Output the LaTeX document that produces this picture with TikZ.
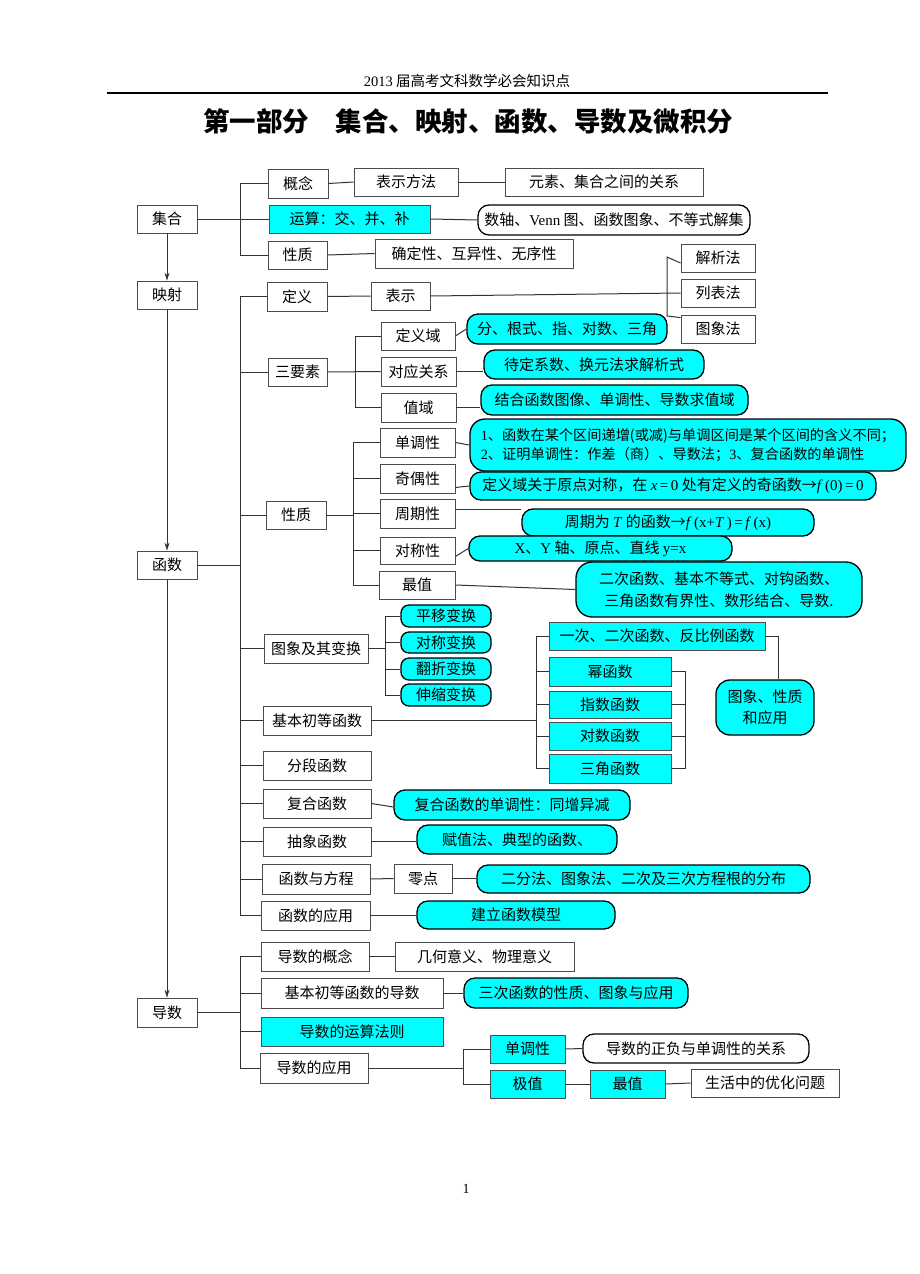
\documentclass[tikz,border=0pt]{standalone}
\usepackage{fontspec}
\setmainfont{Liberation Serif}
\newfontfamily\cjk{Noto Sans CJK SC}
\usetikzlibrary{arrows.meta}
\definecolor{aqua}{RGB}{0,255,255}
\newcommand\latn[1]{{\rmfamily #1}}
\newcommand\mkbox[7]{\node[#6, minimum width={(#4-#2)*1pt}, minimum height={(#5-#3)*1pt}] (#1) at ({(#2+#4)/2},{(#3+#5)/2}) {#7};}
\tikzset{
  txt/.style={font=\cjk\fontsize{15}{19}\selectfont, inner sep=0pt},
  pbox/.style={txt, draw=black!70, line width=0.8pt, fill=white},
  cbox/.style={txt, draw=black!70, line width=0.8pt, fill=aqua},
  pill/.style={txt, draw=black, line width=1.3pt, rounded corners=11pt, fill=aqua},
  wpill/.style={pill, fill=white},
  spill/.style={pill, rounded corners=8pt},
  link/.style={draw=black!80, line width=1pt},
  flow/.style={link, -{Stealth[length=8pt,width=5pt]}},
}
\begin{document}
\begin{tikzpicture}[x=1pt,y=-1pt]
\fill[white] (0,0) rectangle (920,1274);
\useasboundingbox (0,0) rectangle (920,1274);
% header
\node[font=\cjk\fontsize{14.5}{17}\selectfont] (hdr) at (467,81) {\latn{2013} 届高考文科数学必会知识点};
\coordinate (hl1) at (107,93); \coordinate (hl2) at (828,93);
\draw[line width=1.5pt] (hl1) -- (hl2);
\node[font=\cjk\bfseries\fontsize{26.5}{30}\selectfont] (ttl) at (468,121) {第一部分\quad 集合、映射、函数、导数及微积分};
% left column
\mkbox{jh}{137}{205}{197}{233}{pbox}{集合}
\mkbox{ys}{137}{281}{197}{309}{pbox}{映射}
\mkbox{hs}{137}{551}{197}{579}{pbox}{函数}
\mkbox{ds}{137}{998}{197}{1027}{pbox}{导数}
% set
\mkbox{gn}{268}{169}{328}{198}{pbox}{概念}
\mkbox{bsff}{354}{168}{458}{196}{pbox}{表示方法}
\mkbox{ysgx}{505}{168}{703}{196}{pbox}{元素、集合之间的关系}
\mkbox{yx}{269}{205}{430}{233}{cbox}{运算：交、并、补}
\mkbox{szt}{478}{205}{750}{235}{wpill}{数轴、\latn{Venn} 图、函数图象、不等式解集}
\mkbox{xz1}{268}{241}{327}{269}{pbox}{性质}
\mkbox{qd}{375}{239}{573}{268}{pbox}{确定性、互异性、无序性}
% function
\mkbox{dy}{267}{282}{327}{311}{pbox}{定义}
\mkbox{bs}{371}{282}{430}{310}{pbox}{表示}
\mkbox{jx}{681}{244}{755}{272}{pbox}{解析法}
\mkbox{lb}{681}{279}{755}{307}{pbox}{列表法}
\mkbox{tx}{681}{315}{755}{343}{pbox}{图象法}
\mkbox{sys}{268}{358}{327}{386}{pbox}{三要素}
\mkbox{dyy}{381}{322}{455}{350}{pbox}{定义域}
\mkbox{fgs}{467}{314}{667}{344}{pill}{分、根式、指、对数、三角}
\mkbox{dygx}{381}{357}{456}{386}{pbox}{对应关系}
\mkbox{ddxs}{484}{350}{704}{379}{pill}{待定系数、换元法求解析式}
\mkbox{zy}{381}{393}{456}{422}{pbox}{值域}
\mkbox{jhhs}{481}{385}{748}{415}{pill}{结合函数图像、单调性、导数求值域}
\mkbox{xz2}{266}{501}{326}{529}{pbox}{性质}
\mkbox{ddx}{380}{428}{455}{457}{pbox}{单调性}
\mkbox{ddxp}{470}{419}{906}{471}{pill, align=left, rounded corners=15pt, font=\cjk\fontsize{14.2}{18.5}\selectfont}{\latn{1}、函数在某个区间递增(或减)与单调区间是某个区间的含义不同；\\\latn{2}、证明单调性：作差（商）、导数法；\latn{3}、复合函数的单调性}
\mkbox{jox}{380}{464}{455}{493}{pbox}{奇偶性}
\mkbox{joxp}{470}{472}{876}{500}{pill}{定义域关于原点对称，在 \latn{\textit{x}\,=\,0} 处有定义的奇函数→\latn{\textit{f}\,(0)\,=\,0}}
\mkbox{zqx}{380}{499}{455}{528}{pbox}{周期性}
\mkbox{zqxp}{522}{509}{814}{536}{pill}{周期为 \latn{\textit{T}} 的函数→\latn{\textit{f}\,(x+\textit{T}\,)\,=\,\textit{f}\,(x)}}
\mkbox{dcx}{380}{537}{455}{564}{pbox}{对称性}
\mkbox{dcxp}{469}{536}{732}{561}{pill}{\latn{X}、\latn{Y} 轴、原点、直线 \latn{y=x}}
\mkbox{zz}{379}{571}{455}{599}{pbox}{最值}
\mkbox{zzp}{576}{562}{862}{617}{pill, align=center, rounded corners=16pt, font=\cjk\fontsize{15}{22}\selectfont}{二次函数、基本不等式、对钩函数、\\三角函数有界性、数形结合、导数.}
\mkbox{txbh}{264}{634}{368}{663}{pbox}{图象及其变换}
\mkbox{py}{401}{605}{491}{627}{spill}{平移变换}
\mkbox{dc}{401}{632}{491}{653}{spill}{对称变换}
\mkbox{fz}{401}{658}{491}{680}{spill}{翻折变换}
\mkbox{sx}{401}{684}{491}{706}{spill}{伸缩变换}
\mkbox{jbcd}{263}{706}{371}{735}{pbox}{基本初等函数}
\mkbox{yc}{549}{622}{765}{650}{cbox}{一次、二次函数、反比例函数}
\mkbox{mhs}{549}{657}{671}{686}{cbox}{幂函数}
\mkbox{zshs}{549}{691}{671}{718}{cbox}{指数函数}
\mkbox{dshs}{549}{722}{671}{750}{cbox}{对数函数}
\mkbox{sjhs}{549}{754}{671}{783}{cbox}{三角函数}
\mkbox{txxz}{716}{680}{814}{735}{pill, align=center, rounded corners=14pt, font=\cjk\fontsize{15}{21}\selectfont}{图象、性质\\和应用}
\mkbox{fdhs}{263}{751}{371}{780}{pbox}{分段函数}
\mkbox{fhhs}{263}{789}{371}{818}{pbox}{复合函数}
\mkbox{fhp}{394}{790}{630}{820}{pill}{复合函数的单调性：同增异减}
\mkbox{cxhs}{263}{827}{371}{856}{pbox}{抽象函数}
\mkbox{fzf}{417}{825}{617}{854}{pill}{赋值法、典型的函数、}
\mkbox{hyfc}{262}{864}{370}{894}{pbox}{函数与方程}
\mkbox{ld}{394}{864}{452}{893}{pbox}{零点}
\mkbox{efp}{477}{865}{810}{893}{pill}{二分法、图象法、二次及三次方程根的分布}
\mkbox{hsyy}{261}{901}{370}{930}{pbox}{函数的应用}
\mkbox{jlmx}{417}{901}{615}{929}{pill}{建立函数模型}
% derivative
\mkbox{dsgn}{261}{942}{369}{971}{pbox}{导数的概念}
\mkbox{jhyy}{395}{942}{574}{971}{pbox}{几何意义、物理意义}
\mkbox{jbds}{261}{978}{443}{1008}{pbox}{基本初等函数的导数}
\mkbox{schs}{464}{978}{688}{1008}{pill}{三次函数的性质、图象与应用}
\mkbox{ysfz}{261}{1017}{443}{1046}{cbox}{导数的运算法则}
\mkbox{dsyy}{260}{1053}{368}{1083}{pbox}{导数的应用}
\mkbox{ddx2}{490}{1035}{565}{1063}{cbox}{单调性}
\mkbox{zfgx}{583}{1034}{809}{1063}{wpill}{导数的正负与单调性的关系}
\mkbox{jz}{490}{1070}{565}{1098}{cbox}{极值}
\mkbox{zz2}{590}{1070}{665}{1098}{cbox}{最值}
\mkbox{shyh}{691}{1069}{839}{1097}{pbox}{生活中的优化问题}
\node[font=\rmfamily\fontsize{14}{16}\selectfont] (pg) at (466,1189) {1};
% trunk coordinates
\coordinate (tk) at (240,0);
\coordinate (s1) at (355,0);
\coordinate (s2) at (353,0);
\coordinate (s3) at (385,0);
\coordinate (s4) at (536,0);
\coordinate (s5) at (685,0);
\coordinate (s6) at (778,0);
\coordinate (s7) at (463,0);
\coordinate (bkt) at (667,257);
\coordinate (bkb) at (667,316);
% main arrows
\draw[flow] (jh.south) -- (ys.north);
\draw[flow] (ys.south) -- (hs.north);
\draw[flow] (hs.south) -- (ds.north);
% set links
\draw[link] (jh.east) -- (yx.west);
\draw[link] (gn.west) -- (gn.west -| tk) -- (xz1.west -| tk) -- (xz1.west);
\draw[link] (gn.east) -- (bsff.west);
\draw[link] (bsff.east) -- (ysgx.west);
\draw[link] (yx.east) -- (szt.west);
\draw[link] (xz1.east) -- (qd.west);
% function links
\draw[link] (dy.west) -- (dy.west -| tk) -- (hsyy.west -| tk) -- (hsyy.west);
\draw[link] (hs.east) -- (hs.east -| tk);
\foreach \n in {sys,xz2,txbh,jbcd,fdhs,fhhs,cxhs,hyfc} {\draw[link] (\n.west -| tk) -- (\n.west);}
\draw[link] (dy.east) -- (bs.west);
\draw[link] (bs.east) -- (lb.west);
\draw[link] ([yshift=-5pt]jx.west) -- (bkt) -- (bkb) -- ([yshift=-3pt]tx.north west);
\draw[link] (dyy.west) -- (dyy.west -| s1) -- (zy.west -| s1) -- (zy.west);
\draw[link] (sys.east) -- (dygx.west);
\draw[link] (dyy.east) -- (fgs.west);
\draw[link] (dygx.east) -- (dygx.east -| ddxs.west);
\draw[link] (zy.east) -- (zy.east -| jhhs.west);
\draw[link] (ddx.west) -- (ddx.west -| s2) -- (zz.west -| s2) -- (zz.west);
\draw[link] (xz2.east) -- (xz2.east -| s2);
\foreach \n in {jox,zqx,dcx} {\draw[link] (\n.west -| s2) -- (\n.west);}
\draw[link] (ddx.east) -- (ddxp.west);
\draw[link] ([yshift=-9pt]jox.east) -- (joxp.west);
\draw[link] ([yshift=4pt]zqx.east) -- ([yshift=4pt]zqx.east -| zqxp.west);
\draw[link] ([yshift=-6pt]dcx.east) -- (dcxp.west);
\draw[link] (zz.east) -- (zzp.west);
\draw[link] (py.west) -- (py.west -| s3) -- (sx.west -| s3) -- (sx.west);
\draw[link] (txbh.east) -- (txbh.east -| s3);
\foreach \n in {dc,fz} {\draw[link] (\n.west -| s3) -- (\n.west);}
\draw[link] (yc.west) -- (yc.west -| s4) -- (sjhs.west -| s4) -- (sjhs.west);
\draw[link] (jbcd.east) -- (jbcd.east -| s4);
\foreach \n in {mhs,zshs,dshs} {\draw[link] (\n.west -| s4) -- (\n.west);}
\draw[link] (mhs.east) -- (mhs.east -| s5) -- (sjhs.east -| s5) -- (sjhs.east);
\foreach \n in {zshs,dshs} {\draw[link] (\n.east) -- (\n.east -| s5);}
\draw[link] (yc.east) -- (yc.east -| s6) -- (txxz.north -| s6);
\draw[link] (fhhs.east) -- ([yshift=-2pt]fhp.west);
\draw[link] (cxhs.east) -- (cxhs.east -| fzf.west);
\draw[link] (hyfc.east) -- (ld.west);
\draw[link] (ld.east) -- (ld.east -| efp.west);
\draw[link] (hsyy.east) -- (hsyy.east -| jlmx.west);
% derivative links
\draw[link] (dsgn.west) -- (dsgn.west -| tk) -- (dsyy.west -| tk) -- (dsyy.west);
\draw[link] (ds.east) -- (ds.east -| tk);
\foreach \n in {jbds,ysfz} {\draw[link] (\n.west -| tk) -- (\n.west);}
\draw[link] (dsgn.east) -- (jhyy.west);
\draw[link] (jbds.east) -- (schs.west);
\draw[link] (ddx2.west) -- (ddx2.west -| s7) -- (jz.west -| s7) -- (jz.west);
\draw[link] (dsyy.east) -- (dsyy.east -| s7);
\draw[link] (ddx2.east) -- (zfgx.west);
\draw[link] (jz.east) -- (zz2.west);
\draw[link] (zz2.east) -- (shyh.west);
\end{tikzpicture}
\end{document}
